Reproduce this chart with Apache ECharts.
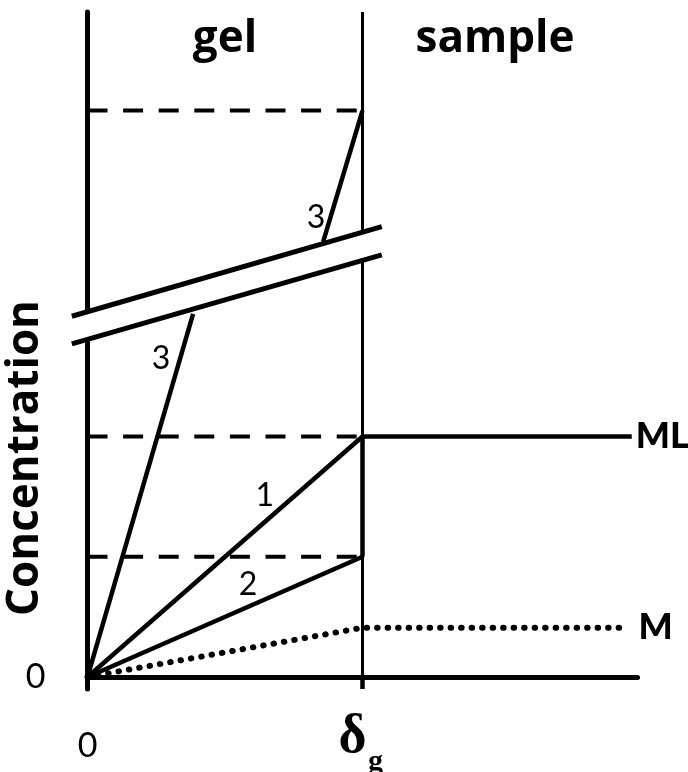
<!DOCTYPE html>
<html>
<head>
<meta charset="utf-8">
<script src="https://cdn.jsdelivr.net/npm/echarts@6/dist/echarts.min.js"></script>
<style>
  html, body { margin: 0; padding: 0; background: #fff; }
  #chart { width: 688px; height: 772px; }
</style>
</head>
<body>
<div id="chart"></div>
<script>
// Distance axis: gel runs from 0 to δg (= 1), sample from δg to 2
const xTickValues = [0, 1];
const xTickLabels = ['0', 'δg'];
const yTickValues = [0];
const yTickLabels = ['0'];

// Concentration profiles (relative units; the axis is broken between ~3 and ~3.7)
const profile1 = [[0, 0], [1, 2]];
const profile2 = [[0, 0], [1, 1]];
const profile3Low = [[0, 0], [0.384, 3.02]];
const profile3High = [[0.857, 3.62], [1, 4.71]];
const mlSample = [[1, 2], [1.979, 2]];
const mProfile = [[0, 0], [1, 0.41], [1.96, 0.41]];
const dashedLevels = [4.71, 2, 1];

// Gel / sample interface at δg
const interfaceLine = [[1, -0.1], [1, 5.53]];
const interfaceJump = [[1, 1], [1, 2]];
const interfaceTick = [[1, -0.1], [1, 0]];

// Axis break band
const breakUpper = [[-0.057, 3.0], [1.07, 3.745]];
const breakLower = [[-0.057, 2.77], [1.07, 3.51]];

// Curve numbers and region names
const curveNotes = [
  { text: '1', at: [0.645, 1.51] },
  { text: '2', at: [0.584, 0.765] },
  { text: '3', at: [0.267, 2.65] },
  { text: '3', at: [0.831, 3.82] }
];
const regionNotes = [
  { text: 'gel', at: [0.5, 5.3] },
  { text: 'sample', at: [1.482, 5.3] }
];

const SANS = 'Lato';
const HEAD = 'Open Sans';
const SERIF = 'Liberation Serif';

function seg(data, width, type, extra) {
  return Object.assign({
    type: 'line',
    data: data,
    symbol: 'none',
    silent: true,
    clip: false,
    lineStyle: { color: '#000', width: width, type: type || 'solid', cap: 'butt' }
  }, extra || {});
}

const endLabelStyle = {
  show: true, fontFamily: SANS, fontWeight: 900, fontSize: 36, color: '#000'
};

const series = [];

// dashed reference levels inside the gel
dashedLevels.forEach(function (lv) {
  series.push(seg([[0, lv], [1, lv]], 4, [20, 15.6]));
});

// interface line
series.push(seg(interfaceLine, 3));
series.push(seg(interfaceJump, 4.5));
series.push(seg(interfaceTick, 4.5));

// profiles
series.push(seg(profile1, 4.5));
series.push(seg(profile2, 4.5));
series.push(seg(profile3Low, 4.5));
series.push(seg(profile3High, 4.5));
series.push(seg(mlSample, 4.5, 'solid', {
  endLabel: Object.assign({ formatter: 'ML', distance: 4 }, endLabelStyle)
}));
series.push(seg(mProfile, 6, [0.5, 10], {
  lineStyle: { color: '#000', width: 6, type: [0.5, 10], cap: 'round' },
  endLabel: Object.assign({ formatter: 'M', distance: 12 }, endLabelStyle)
}));

// axis break: white band bounded by two slanted strokes
series.push({
  type: 'custom',
  silent: true,
  z: 10,
  data: [[0, 0]],
  renderItem: function (params, api) {
    const u0 = api.coord(breakUpper[0]), u1 = api.coord(breakUpper[1]);
    const l0 = api.coord(breakLower[0]), l1 = api.coord(breakLower[1]);
    return {
      type: 'group',
      children: [
        { type: 'polygon', shape: { points: [u0, u1, l1, l0] }, style: { fill: '#fff' } },
        { type: 'line', shape: { x1: u0[0], y1: u0[1], x2: u1[0], y2: u1[1] }, style: { stroke: '#000', lineWidth: 5 } },
        { type: 'line', shape: { x1: l0[0], y1: l0[1], x2: l1[0], y2: l1[1] }, style: { stroke: '#000', lineWidth: 5 } }
      ]
    };
  }
});

// text annotations placed in data space
function noteSeries(notes, font) {
  return {
    type: 'custom',
    silent: true,
    z: 12,
    data: notes.map(function (n) { return n.at; }),
    renderItem: function (params, api) {
      const n = notes[params.dataIndex];
      const p = api.coord(n.at);
      return {
        type: 'text',
        x: p[0], y: p[1],
        style: Object.assign({
          text: n.text, fill: '#000', align: 'center', verticalAlign: 'middle'
        }, font)
      };
    }
  };
}
series.push(noteSeries(curveNotes, { fontFamily: SANS, fontSize: 32 }));
series.push(noteSeries(regionNotes, { fontFamily: HEAD, fontWeight: 'bold', fontSize: 44 }));

// distance tick labels under the baseline; a two-character label is drawn
// as a bold serif symbol with its subscript
series.push({
  type: 'custom',
  silent: true,
  z: 12,
  data: xTickValues.map(function (v) { return [v, 0]; }),
  renderItem: function (params, api) {
    const v = xTickValues[params.dataIndex];
    const t = xTickLabels[params.dataIndex];
    const p = api.coord([v, 0]);
    if (t.length > 1) {
      return {
        type: 'group',
        children: [
          { type: 'text', x: p[0] - 10, y: p[1] + 61,
            style: { text: t.charAt(0), fill: '#000', fontFamily: SERIF, fontWeight: 'bold', fontSize: 54, align: 'center', verticalAlign: 'middle' } },
          { type: 'text', x: p[0] + 13, y: p[1] + 85,
            style: { text: t.slice(1), fill: '#000', fontFamily: SERIF, fontWeight: 'bold', fontSize: 30, align: 'center', verticalAlign: 'middle' } }
        ]
      };
    }
    return {
      type: 'text', x: p[0], y: p[1] + 69,
      style: { text: t, fill: '#000', fontFamily: SANS, fontSize: 34, align: 'center', verticalAlign: 'middle' }
    };
  }
});

const option = {
  animation: false,
  backgroundColor: '#fff',
  grid: { left: 87.5, right: 50.5, top: 12, bottom: 83, containLabel: false, outerBoundsMode: 'none' },
  xAxis: {
    type: 'value', min: 0, max: 2,
    axisLine: { show: true, onZero: true, lineStyle: { color: '#000', width: 5 } },
    axisTick: { show: false },
    splitLine: { show: false },
    axisLabel: { show: false }
  },
  yAxis: {
    type: 'value', min: -0.1, max: 5.53,
    axisLine: { show: true, onZero: true, lineStyle: { color: '#000', width: 5 } },
    axisTick: { show: false },
    splitLine: { show: false },
    axisLabel: {
      customValues: yTickValues,
      margin: 42,
      fontFamily: SANS, fontSize: 34, color: '#000',
      formatter: function (v) {
        const t = yTickLabels[yTickValues.indexOf(v)];
        return t === undefined ? '' : t;
      }
    }
  },
  graphic: [{
    type: 'text',
    x: 25, y: 458,
    rotation: Math.PI / 2,
    style: {
      text: 'Concentration',
      fontFamily: HEAD, fontWeight: 'bold', fontSize: 44, fill: '#000',
      align: 'center', verticalAlign: 'middle'
    }
  }],
  series: series
};

const chart = echarts.init(document.getElementById('chart'), null, { renderer: 'canvas' });
chart.setOption(option);
</script>
</body>
</html>
